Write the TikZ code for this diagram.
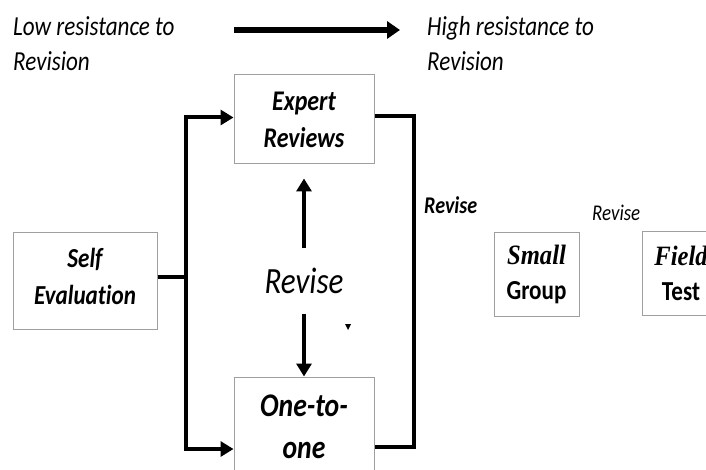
\documentclass[tikz,border=0pt]{standalone}
\usepackage{fontspec}
\setmainfont[FakeStretch=0.84, Ligatures=NoCommon]{Carlito}
\newfontfamily\timesfont[FakeStretch=0.88]{Liberation Serif}
\usetikzlibrary{arrows.meta}

\tikzset{
  kasten/.style={draw=gray!75, line width=1pt, align=center, inner sep=0pt},
  linie/.style={line width=4pt},
  pfeil/.style={linie, -{Triangle[length=13pt,width=15pt]}},
}

\begin{document}
\begin{tikzpicture}[x=1pt,y=-1pt]
  % Rahmen festlegen
  \useasboundingbox (0,0) rectangle (706,470);
  \clip (0,0) rectangle (706,470);

  % Kopfzeile mit Pfeil
  \node[anchor=west, align=left, inner sep=0pt, font=\fontsize{27.5}{35}\selectfont\itshape] (low) at (13,44) {Low resistance to\\Revision};
  \node[anchor=west, align=left, inner sep=0pt, font=\fontsize{27.5}{35}\selectfont\itshape] (high) at (427,44) {High resistance to\\Revision};
  \coordinate (lowend) at (234,30);
  \coordinate (highend) at (400,30);
  \draw[line width=6pt, -{Triangle[length=13pt,width=17pt]}] (lowend) -- (highend);

  % Kaesten
  \node[kasten, minimum width=140pt, minimum height=89pt, font=\fontsize{28.5}{37}\selectfont\bfseries\itshape] (expert) at (304,119.5) {Expert\\Reviews};
  \node[kasten, minimum width=144pt, minimum height=96pt, text depth=10pt, font=\fontsize{27.5}{37}\selectfont\bfseries\itshape] (self) at (85,281) {Self\\Evaluation};
  \node[kasten, minimum width=140pt, minimum height=100pt, font=\fontsize{33}{42}\selectfont\bfseries\itshape] (onetoone) at (304,427) {One-to-\\one};
  \node[kasten, minimum width=85pt, minimum height=83pt, font=\fontsize{27.5}{35}\selectfont\bfseries] (small) at (536.5,274.5) {{\timesfont\itshape\fontsize{28}{35}\selectfont Small}\\Group};
  \node[kasten, minimum width=78pt, minimum height=83pt, font=\fontsize{27.5}{35}\selectfont\bfseries] (field) at (681,273.5) {{\timesfont\itshape\fontsize{28}{35}\selectfont Field}\\Test};

  % Revise-Beschriftungen
  \node[inner sep=0pt, minimum height=65pt, font=\fontsize{37}{37}\selectfont\itshape] (revise) at (304,281) {Revise};
  \node[anchor=west, inner sep=0pt, font=\fontsize{24}{24}\selectfont\bfseries\itshape] (revise2) at (424,205) {Revise};
  \node[anchor=west, inner sep=0pt, font=\fontsize{22.5}{22.5}\selectfont\itshape] (revise3) at (592,213) {Revise};

  % Verbindungen links
  \coordinate (split) at (186,277);
  \draw[linie] ([yshift=4pt]self.east) -- (split);
  \draw[pfeil] (split) |- ([yshift=2pt]expert.west);
  \draw[pfeil] (split) |- ([yshift=-22pt]onetoone.west);

  % Verbindung rechts
  \coordinate (back) at (414,447);
  \draw[linie] ([yshift=3pt]expert.east) -| (back) -- (onetoone.east |- back);

  % Pfeile zur Revision
  \draw[pfeil, shorten >=14pt] (revise) -- (revise |- expert.south);
  \draw[pfeil] (revise) -- (revise |- onetoone.north);

  % kleine Markierung
  \fill (345,324) -- (351,324) -- (348,330) -- cycle;
\end{tikzpicture}
\end{document}
